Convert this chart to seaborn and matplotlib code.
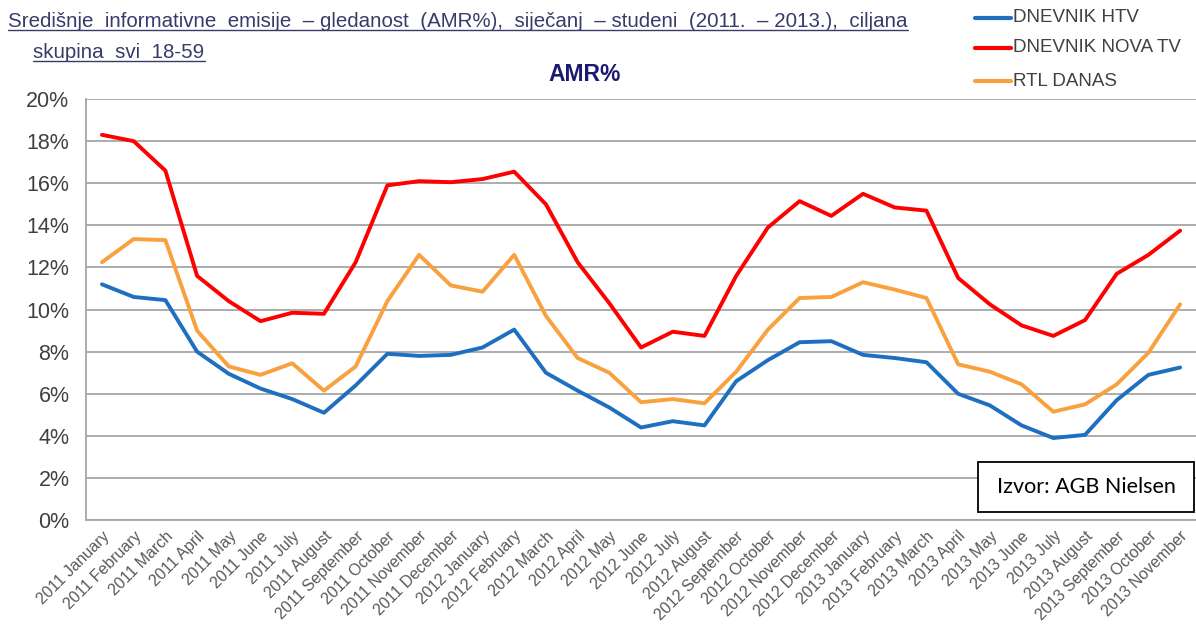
import numpy as np
import pandas as pd
import matplotlib
matplotlib.use("Agg")
import matplotlib.pyplot as plt
from matplotlib.lines import Line2D
from matplotlib.patches import Rectangle
from matplotlib.ticker import FuncFormatter, FixedLocator
import seaborn as sns

months = ["January", "February", "March", "April", "May", "June", "July",
          "August", "September", "October", "November", "December"]
labels = [f"{y} {m}" for y in (2011, 2012, 2013) for m in months][:35]

htv = [11.2, 10.6, 10.45, 8.0, 6.95, 6.25, 5.75, 5.1, 6.4, 7.9, 7.8, 7.85,
       8.2, 9.05, 7.0, 6.15, 5.35, 4.4, 4.7, 4.5, 6.6, 7.6, 8.45, 8.5,
       7.85, 7.7, 7.5, 6.0, 5.45, 4.5, 3.9, 4.05, 5.7, 6.9, 7.25]
nova = [18.3, 18.0, 16.6, 11.6, 10.4, 9.45, 9.85, 9.8, 12.25, 15.9, 16.1, 16.05,
        16.2, 16.55, 15.0, 12.25, 10.3, 8.2, 8.95, 8.75, 11.6, 13.9, 15.15, 14.45,
        15.5, 14.85, 14.7, 11.5, 10.25, 9.25, 8.75, 9.5, 11.7, 12.6, 13.75]
rtl = [12.25, 13.35, 13.3, 9.0, 7.3, 6.9, 7.45, 6.15, 7.3, 10.4, 12.6, 11.15,
       10.85, 12.6, 9.7, 7.7, 7.0, 5.6, 5.75, 5.55, 7.05, 9.05, 10.55, 10.6,
       11.3, 10.95, 10.55, 7.4, 7.05, 6.45, 5.15, 5.5, 6.45, 7.95, 10.25]

series = ["DNEVNIK HTV", "DNEVNIK NOVA TV", "RTL DANAS"]
colors = ["#1F6FC0", "#FF0000", "#F9A03F"]

df = pd.DataFrame({
    "idx": list(range(len(labels))) * 3,
    "value": htv + nova + rtl,
    "series": [s for s in series for _ in labels],
})

sns.set_style("white")
plt.rcParams["font.family"] = ["Liberation Sans", "DejaVu Sans"]

fig = plt.figure(figsize=(11.96, 6.39), dpi=100)
ax = fig.add_axes([0.072, 0.186, 0.928, 0.659])

sns.lineplot(data=df, x="idx", y="value", hue="series", palette=colors,
             linewidth=2.8, ax=ax, legend=False)

ax.set_ylim(0, 20)
ax.set_xlim(-0.5, 34.4)
ax.yaxis.set_major_locator(FixedLocator(np.arange(0, 21, 2)))
ax.yaxis.set_major_formatter(FuncFormatter(lambda v, p: f"{v:.0f}%"))
ax.grid(axis="y", color="#A6A6A6", linewidth=1.3)
ax.set_axisbelow(True)
for s in ["top", "right"]:
    ax.spines[s].set_visible(False)
for s in ["left", "bottom"]:
    ax.spines[s].set_color("#A6A6A6")
    ax.spines[s].set_linewidth(1.3)

ax.set_xticks(range(len(labels)))
ax.set_xticklabels(labels, rotation=45, ha="right", rotation_mode="anchor",
                   fontsize=11.5, color="#595959")
ax.tick_params(axis="x", length=0, pad=6)
ax.set_xticks(np.arange(-0.5, 34.6, 1), minor=True)
ax.tick_params(axis="x", which="minor", length=5, color="#A6A6A6", width=1.2)
ax.tick_params(axis="y", length=0, labelsize=15.5, labelcolor="#404040", pad=12)
ax.set_xlabel("")
ax.set_ylabel("")

# header text
hdr_color = "#3A3A6A"
t1 = fig.text(0.007, 0.958, "Središnje  informativne  emisije  – gledanost  (AMR%),  siječanj  – studeni  (2011.  – 2013.),  ciljana",
              fontsize=14.8, color=hdr_color, ha="left", va="baseline")
t2 = fig.text(0.028, 0.910, "skupina  svi  18-59", fontsize=14.8,
              color=hdr_color, ha="left", va="baseline")
fig.text(0.489, 0.874, "AMR%", fontsize=16.5, fontweight="bold",
         color="#1A1A70", ha="center", va="baseline")

fig.canvas.draw()
rend = fig.canvas.get_renderer()
inv = fig.transFigure.inverted()
for t in (t1, t2):
    bb = t.get_window_extent(rend)
    (x0, y0), (x1, _) = inv.transform([(bb.x0, bb.y0), (bb.x1, bb.y1)])
    fig.add_artist(Line2D([x0, x1], [y0 + 0.001, y0 + 0.001], transform=fig.transFigure,
                          color=hdr_color, linewidth=1))

# legend
leg_y = [0.972, 0.925, 0.873]
for name, col, y in zip(series, colors, leg_y):
    fig.add_artist(Line2D([0.815, 0.845], [y, y], transform=fig.transFigure,
                          color=col, linewidth=3))
    fig.text(0.847, y, name, fontsize=13.5, color="#404040", va="center", ha="left")

# source box
fig.add_artist(Rectangle((0.818, 0.199), 0.180, 0.078, transform=fig.transFigure,
                         facecolor="white", edgecolor="black", linewidth=1.3))
fig.text(0.908, 0.238, "Izvor: AGB Nielsen", fontsize=15.5, family=["Lato", "DejaVu Sans"],
         color="black", ha="center", va="center")

fig.savefig("out.png", dpi=100)
